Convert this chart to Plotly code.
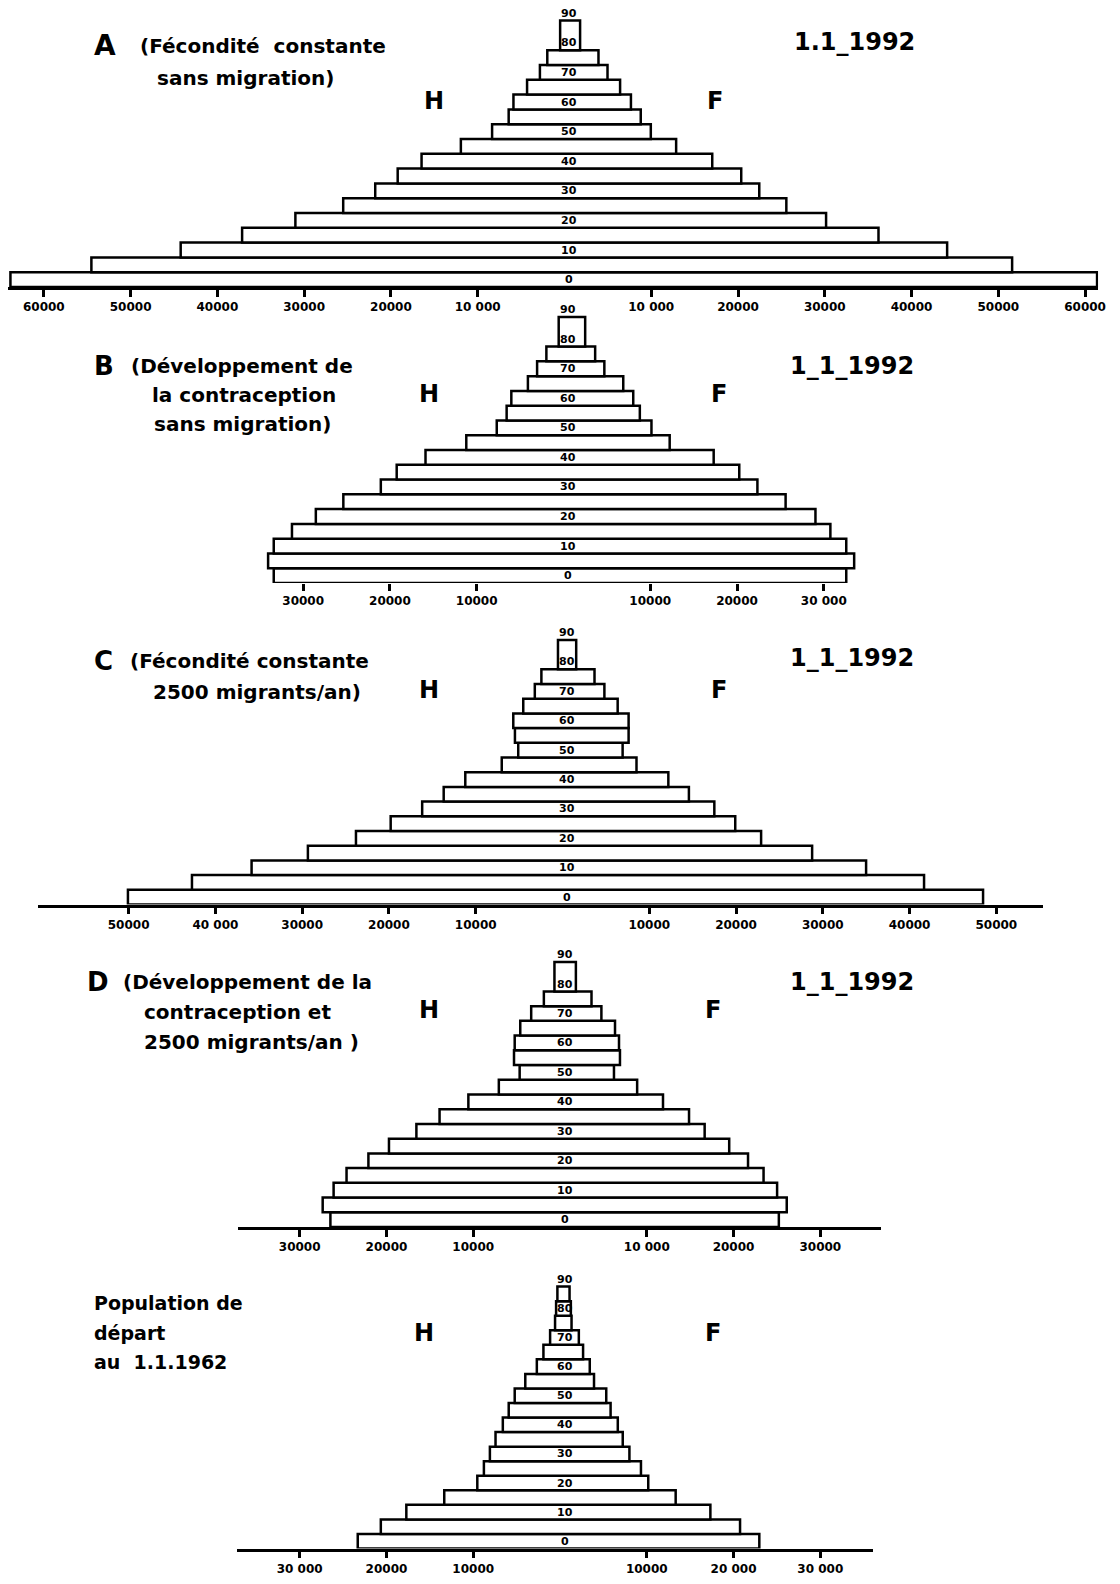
import plotly.graph_objects as go

# ---------------- data (5-year age groups, bottom to top) ----------------
AGE_START = [0, 5, 10, 15, 20, 25, 30, 35, 40, 45, 50, 55, 60, 65, 70, 75, 80]
AGE_SPAN = [5] * 16 + [10]
AGE_START_E = [0, 5, 10, 15, 20, 25, 30, 35, 40, 45, 50, 55, 60, 65, 70, 75, 80, 85]
AGE_SPAN_E = [5] * 18
AGE_LABELS = [0, 10, 20, 30, 40, 50, 60, 70, 80, 90]

MEN_A = [63850, 54520, 44230, 37150, 31010, 25500, 21810, 19220, 16470, 11940, 8340, 6430, 5880, 4310, 2830, 1980, 500]
WOMEN_A = [61380, 51590, 44100, 36190, 30150, 25570, 22450, 20370, 17030, 12870, 9950, 8790, 7660, 6410, 4960, 3920, 1800]
MEN_B = [33390, 34040, 33390, 31290, 28540, 25370, 21050, 19220, 15900, 11200, 7690, 6550, 6010, 4100, 3040, 1970, 550]
WOMEN_B = [32590, 33500, 32590, 30760, 29040, 25600, 22350, 20260, 17310, 12240, 10140, 8800, 8040, 6890, 4710, 3650, 2500]
MEN_C = [50080, 42700, 35830, 29340, 23800, 19800, 16170, 13690, 11200, 7000, 5100, 5480, 5670, 4520, 3190, 2430, 520]
WOMEN_C = [48470, 41670, 34990, 28770, 22890, 19910, 17500, 14570, 12200, 8530, 6930, 7620, 7620, 6360, 4830, 3690, 1580]
MEN_D = [26460, 27350, 26090, 24600, 22080, 19710, 16550, 13880, 10560, 7050, 4650, 5300, 5220, 4580, 3320, 1860, 640]
WOMEN_D = [25220, 26130, 25020, 23460, 21670, 19500, 16670, 14870, 11870, 8890, 6220, 6910, 6800, 6340, 4770, 3630, 1830]
MEN_E = [23310, 20650, 17710, 13340, 9530, 8770, 8080, 7430, 6590, 5910, 5220, 4000, 2670, 1910, 1140, 570, 450, 300]
WOMEN_E = [22970, 20750, 17330, 13330, 10170, 9330, 8000, 7230, 6660, 5830, 5330, 3920, 3430, 2660, 2170, 1330, 1250, 1100]

TICKS_A = [-60000, -50000, -40000, -30000, -20000, -10000, 10000, 20000, 30000, 40000, 50000, 60000]
TICKTEXT_A = ["60000", "50000", "40000", "30000", "20000", "10 000", "10 000", "20000", "30000", "40000", "50000", "60000"]
TICKS_B = [-30000, -20000, -10000, 10000, 20000, 30000]
TICKTEXT_B = ["30000", "20000", "10000", "10000", "20000", "30 000"]
TICKS_C = [-50000, -40000, -30000, -20000, -10000, 10000, 20000, 30000, 40000, 50000]
TICKTEXT_C = ["50000", "40 000", "30000", "20000", "10000", "10000", "20000", "30000", "40000", "50000"]
TICKS_D = [-30000, -20000, -10000, 10000, 20000, 30000]
TICKTEXT_D = ["30000", "20000", "10000", "10 000", "20000", "30000"]
TICKS_E = [-30000, -20000, -10000, 10000, 20000, 30000]
TICKTEXT_E = ["30 000", "20000", "10000", "10000", "20 000", "30 000"]

# ---------------- layout constants (page pixels) ----------------
OFF = 8                      # default body margin of the html page
W, H = 1120 - OFF, 1584 - OFF
K = 87.4 / 10000.0           # pixels per person
FONT = "DejaVu Sans"

pyramids = [
    dict(men=MEN_A, women=WOMEN_A, starts=AGE_START, spans=AGE_SPAN, c=568.5, y0=287.0, py=2.96,
         dom=(8, 1106), line=True, tv=TICKS_A, tt=TICKTEXT_A),
    dict(men=MEN_B, women=WOMEN_B, starts=AGE_START, spans=AGE_SPAN, c=567.5, y0=583.0, py=2.955,
         dom=(200, 930), line=False, tv=TICKS_B, tt=TICKTEXT_B),
    dict(men=MEN_C, women=WOMEN_C, starts=AGE_START, spans=AGE_SPAN, c=566.5, y0=904.5, py=2.94,
         dom=(38, 1050), line=True, tv=TICKS_C, tt=TICKTEXT_C),
    dict(men=MEN_D, women=WOMEN_D, starts=AGE_START, spans=AGE_SPAN, c=564.0, y0=1227.0, py=2.945,
         dom=(240, 887), line=True, tv=TICKS_D, tt=TICKTEXT_D),
    dict(men=MEN_E, women=WOMEN_E, starts=AGE_START_E, spans=AGE_SPAN_E, c=564.0, y0=1548.5, py=2.91,
         dom=(239, 879), line=True, tv=TICKS_E, tt=TICKTEXT_E),
]


def fx(px):
    return (px - OFF) / W


def fy(py):
    return 1 - (py - OFF) / H


fig = go.Figure()
layout = dict(width=W, height=H, margin=dict(l=0, r=0, t=0, b=0, pad=0),
              paper_bgcolor="white", plot_bgcolor="rgba(0,0,0,0)",
              showlegend=False, barmode="overlay")
annotations = []

for i, p in enumerate(pyramids, start=1):
    xa = "x" if i == 1 else f"x{i}"
    ya = "y" if i == 1 else f"y{i}"
    mids = [s + w / 2.0 for s, w in zip(p["starts"], p["spans"])]
    fig.add_trace(go.Bar(
        orientation="h",
        y=mids,
        x=[m + f for m, f in zip(p["men"], p["women"])],
        base=[-m for m in p["men"]],
        width=p["spans"],
        marker=dict(color="white", line=dict(color="black", width=2.5)),
        xaxis=xa, yaxis=ya, hoverinfo="skip",
    ))
    L, R = p["dom"]
    ymax = min(96.0, (p["y0"] - OFF - 0.5) / p["py"])
    top_px = p["y0"] - ymax * p["py"]
    layout["xaxis" if i == 1 else f"xaxis{i}"] = dict(
        domain=[fx(L), fx(R)],
        range=[(L - p["c"]) / K, (R - p["c"]) / K],
        anchor=ya, showgrid=False, zeroline=False,
        showline=p["line"], linecolor="black", linewidth=2.5,
        ticks="outside", ticklen=7, tickwidth=2.5, tickcolor="black",
        tickvals=p["tv"], ticktext=p["tt"],
        tickfont=dict(family=FONT, size=12, color="black", weight="bold"),
        fixedrange=True,
    )
    layout["yaxis" if i == 1 else f"yaxis{i}"] = dict(
        domain=[fy(p["y0"]), fy(top_px)],
        range=[0, ymax], anchor=xa, visible=False, fixedrange=True,
    )
    for a in AGE_LABELS:
        annotations.append(dict(
            xref=xa, yref=ya, x=0, y=a + 2.5, xshift=5, text=str(a), showarrow=False,
            font=dict(family=FONT, size=11, color="black", weight="bold"),
        ))


def txt(x, y, text, size, anchor="left"):
    annotations.append(dict(
        xref="paper", yref="paper", x=fx(x), y=fy(y), text=text, showarrow=False,
        xanchor=anchor, yanchor="middle",
        font=dict(family=FONT, size=size, color="black", weight="bold"),
    ))


# titles
txt(93, 45, "A", 28)
txt(139, 46, "(Fécondité  constante", 20)
txt(156, 78, "sans migration)", 20)

txt(93, 366, "B", 26)
txt(130, 366, "(Développement de", 20)
txt(151, 395, "la contraception", 20)
txt(153, 424, "sans migration)", 20)

txt(93, 661, "C", 26)
txt(129, 661, "(Fécondité constante", 20)
txt(152, 692, "2500 migrants/an)", 20)

txt(86, 982, "D", 26)
txt(122, 982, "(Développement de la", 20)
txt(143, 1012, "contraception et", 20)
txt(143, 1042, "2500 migrants/an )", 20)

txt(93, 1303, "Population de", 19)
txt(93, 1333, "départ", 19)
txt(93, 1362, "au  1.1.1962", 19)

# sex labels
for hx, fxp, yy in [(437, 720, 101), (432, 724, 394), (432, 724, 690), (432, 718, 1010), (427, 718, 1333)]:
    txt(hx, yy, "H", 24, anchor="center")
    txt(fxp, yy, "F", 24, anchor="center")

# dates
txt(861, 42, "1.1_1992", 24, anchor="center")
txt(858, 366, "1_1_1992", 24, anchor="center")
txt(858, 658, "1_1_1992", 24, anchor="center")
txt(858, 982, "1_1_1992", 24, anchor="center")

layout["annotations"] = annotations
fig.update_layout(**layout)
fig.write_html("out.html")
